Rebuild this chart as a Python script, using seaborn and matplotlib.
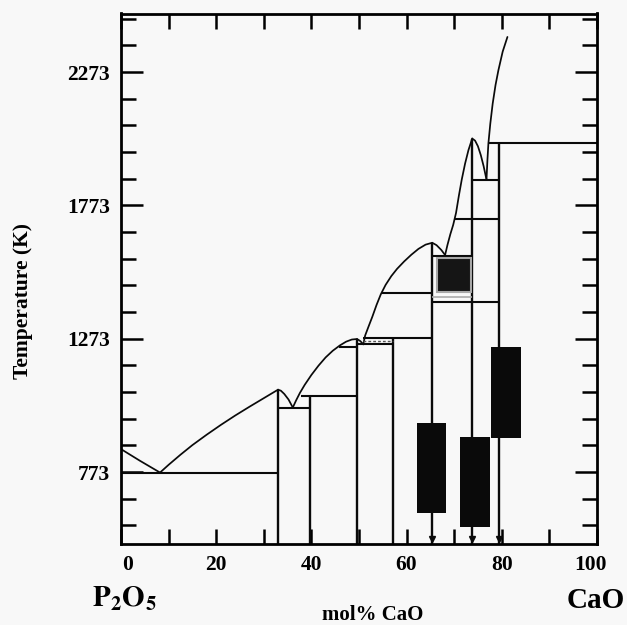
import numpy as np
import pandas as pd
import seaborn as sns
import matplotlib.pyplot as plt
from matplotlib.transforms import ScaledTranslation

# liquidus curves (mol% CaO, K)
liq_1_x = [0, 4, 8.2]
liq_1_t = [859, 815, 771]
liq_2_x = [8.2, 10, 12.5, 15, 18, 21, 24, 27, 30, 33.0]
liq_2_t = [771, 800, 838, 874, 913, 950, 985, 1018, 1050, 1082]
liq_3_x = [33.0, 33.6, 34.3, 35.2, 36.1]
liq_3_t = [1082, 1078, 1066, 1045, 1015]
liq_4_x = [36.1, 36.8, 37.6, 38.6, 40, 41.5, 43, 44.5, 46, 47.3, 48.5, 49.6]
liq_4_t = [1015, 1042, 1070, 1100, 1137, 1172, 1203, 1228, 1248, 1262, 1270, 1272]
liq_5_x = [49.6, 50.3, 50.9]
liq_5_t = [1272, 1264, 1252]
liq_6_x = [50.9, 51.3, 52.0, 52.8, 53.7, 54.6, 55.6, 56.8, 58.0, 59.5, 61.0, 62.5, 64.0, 65.4]
liq_6_t = [1252, 1285, 1318, 1355, 1400, 1440, 1475, 1508, 1535, 1563, 1588, 1610, 1626, 1633]
liq_7_x = [65.4, 66.3, 67.3, 68.1]
liq_7_t = [1633, 1624, 1606, 1587]
liq_8_x = [68.1, 68.6, 69.2, 69.8, 70.4, 71.0, 71.6, 72.3, 73.0, 73.8]
liq_8_t = [1587, 1625, 1665, 1700, 1745, 1810, 1870, 1930, 1980, 2024]
liq_9_x = [73.8, 74.4, 75.0, 75.6, 76.2, 76.8]
liq_9_t = [2024, 2016, 1995, 1962, 1920, 1870]
liq_10_x = [76.8, 77.0, 77.2, 77.6, 78.1, 78.7, 79.3, 80.2, 81.2]
liq_10_t = [1870, 1945, 2006, 2080, 2155, 2225, 2280, 2350, 2405]

# compounds (vertical lines) and their top temperature
comp_x = [33.0, 39.7, 49.6, 57.2, 65.4, 73.8, 79.4]
comp_top = [1082, 1060, 1272, 1277, 1633, 2024, 2006]

# horizontal invariant lines
h_t = [771, 1015, 1060, 1242, 1253, 1277, 1443, 1409, 1583, 1724, 1870, 2006]
h_x0 = [0, 33.0, 37.9, 45.8, 49.6, 50.9, 54.6, 65.4, 65.4, 70.2, 73.8, 77.2]
h_x1 = [33.0, 39.7, 49.6, 49.6, 57.2, 65.4, 65.4, 79.4, 73.8, 79.4, 79.4, 100]
dash_t, dash_x0, dash_x1 = 1265, 50.9, 57.2
grey_t, grey_x0, grey_x1 = 1428, 65.4, 73.8

# black boxes
box_x0 = [62.1, 71.2, 77.7]
box_x1 = [68.3, 77.5, 84.0]
box_lo = [618, 568, 902]
box_hi = [956, 905, 1241]
sq_x0, sq_x1, sq_lo, sq_hi = 66.4, 73.6, 1449, 1574

arrow_x = [65.4, 73.8, 79.4]

sns.set_style('ticks')
plt.rcParams['font.family'] = ['Liberation Serif', 'DejaVu Serif']
plt.rcParams['font.weight'] = 'bold'
plt.rcParams['mathtext.fontset'] = 'stix'
plt.rcParams['text.color'] = 'black'
plt.rcParams['xtick.color'] = 'black'
plt.rcParams['ytick.color'] = 'black'

fig = plt.figure(figsize=(6.27, 6.25), dpi=100, facecolor='#f8f8f8')
ax = fig.add_axes([0.193, 0.1296, 0.759, 0.8488])
ax.set_facecolor('#f8f8f8')

curves = []
for i, (xs, ts) in enumerate([(liq_1_x, liq_1_t), (liq_2_x, liq_2_t), (liq_3_x, liq_3_t),
                              (liq_4_x, liq_4_t), (liq_5_x, liq_5_t), (liq_6_x, liq_6_t),
                              (liq_7_x, liq_7_t), (liq_8_x, liq_8_t), (liq_9_x, liq_9_t),
                              (liq_10_x, liq_10_t)]):
    curves.append(pd.DataFrame({'x': xs, 't': ts, 'curve': i}))
df = pd.concat(curves, ignore_index=True)
sns.lineplot(data=df, x='x', y='t', units='curve', estimator=None, sort=False,
             color='#0a0a0a', lw=1.25, ax=ax, legend=False)

ymin = 503
ax.vlines(comp_x, ymin, comp_top, color='#0a0a0a', lw=1.7)
ax.hlines(h_t, h_x0, h_x1, color='#0a0a0a', lw=1.5)
ax.hlines(dash_t, dash_x0, dash_x1, color='#555555', lw=1.0, linestyles=(0, (2, 1.5)))
ax.hlines(grey_t, grey_x0, grey_x1, color='#aaaaaa', lw=1.2)

bx0 = np.array(box_x0)
bx1 = np.array(box_x1)
ax.bar(bx0, np.array(box_hi) - np.array(box_lo), bottom=box_lo, width=bx1 - bx0,
       align='edge', color='#0a0a0a', edgecolor='none', zorder=3)
ax.bar(sq_x0, sq_hi - sq_lo, bottom=sq_lo, width=sq_x1 - sq_x0, align='edge',
       color='#151515', edgecolor='#a8a8a8', lw=1.5, zorder=3)

ax.plot(arrow_x, [520] * len(arrow_x), ls='none', marker='v', ms=5, color='#0a0a0a', zorder=4)

ax.set_xlim(0, 100)
ax.set_ylim(ymin, 2493)
ax.set_xticks(range(0, 101, 20))
ax.set_xticks(range(0, 101, 10), minor=True)
ax.set_yticks([773, 1273, 1773, 2273])
ax.set_yticks(range(573, 2494, 100), minor=True)
ax.tick_params(which='both', direction='in', top=True, right=True, width=1.8, colors='black',
               labelsize=15.5, pad=8)
ax.tick_params(axis='x', which='both', length=10.5)
ax.tick_params(axis='y', which='major', length=16)
ax.tick_params(axis='y', which='minor', length=11)
for lab in ax.get_xticklabels() + ax.get_yticklabels():
    lab.set_fontweight('bold')
labs = ax.get_xticklabels()
labs[0].set_transform(labs[0].get_transform() + ScaledTranslation(7 / 100, 0, fig.dpi_scale_trans))
labs[-1].set_transform(labs[-1].get_transform() + ScaledTranslation(-6 / 100, 0, fig.dpi_scale_trans))
for s in ax.spines.values():
    s.set_linewidth(2.0)
    s.set_color('black')
ax.set_xlabel('')
ax.set_ylabel('')

fig.text(0.037, 0.518, 'Temperature (K)', rotation=90, ha='center', va='center',
         fontsize=15.5, fontweight='bold')
fig.text(0.595, 0.008, 'mol% CaO', ha='center', va='baseline', fontsize=15, fontweight='bold')
fig.text(0.199, 0.029, r'$\mathbf{P_2O_5}$', ha='center', va='baseline', fontsize=21)
fig.text(0.950, 0.028, 'CaO', ha='center', va='baseline', fontsize=21, fontweight='bold')

fig.savefig('out.png', dpi=100, facecolor=fig.get_facecolor())
